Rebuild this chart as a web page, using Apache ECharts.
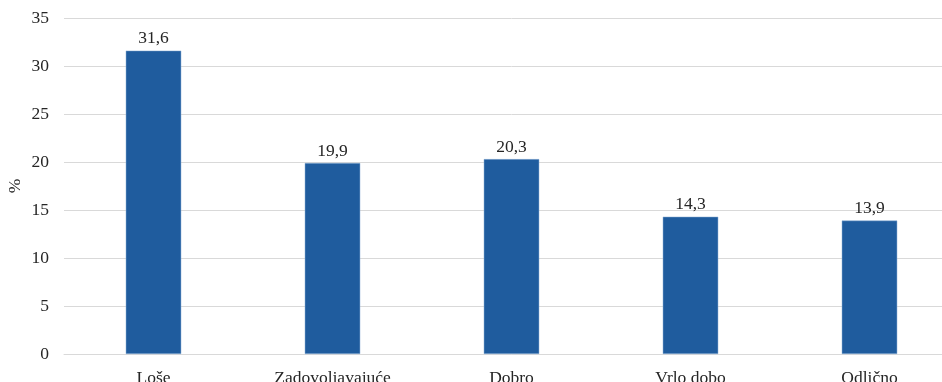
<!DOCTYPE html>
<html><head><meta charset="utf-8">
<script src="https://cdn.jsdelivr.net/npm/echarts@6/dist/echarts.min.js"></script>
<style>html,body{margin:0;padding:0;background:#fff;overflow:hidden}#c{width:959px;height:382px}</style>
</head><body><div id="c"></div>
<script>
const categories = ["Loše", "Zadovoljavajuće", "Dobro", "Vrlo dobo", "Odlično"];
const values = [31.6, 19.9, 20.3, 14.3, 13.9];
const yTicks = [0, 5, 10, 15, 20, 25, 30, 35];

const font = "'Liberation Serif', 'DejaVu Serif', serif";
const chart = echarts.init(document.getElementById('c'));
chart.setOption({
  animation: false,
  grid: { left: 64, right: 0, top: 18, bottom: 28, containLabel: false, outerBoundsMode: 'none' },
  xAxis: {
    type: 'category', data: categories,
    axisTick: { show: false },
    axisLine: { lineStyle: { color: '#d9d9d9', width: 1 } },
    axisLabel: { fontFamily: font, fontSize: 17.5, color: '#262626', margin: 15 }
  },
  yAxis: {
    type: 'value', min: yTicks[0], max: yTicks[yTicks.length - 1], interval: 5,
    name: '%', nameLocation: 'middle', nameGap: 40, nameRotate: 90, nameMoveOverlap: false,
    nameTextStyle: { fontFamily: font, fontSize: 17.5, color: '#262626' },
    axisLine: { show: false }, axisTick: { show: false },
    splitLine: { lineStyle: { color: '#d9d9d9', width: 1 } },
    axisLabel: { fontFamily: font, fontSize: 17.5, color: '#262626', margin: 15,
      formatter: v => String(v) }
  },
  series: [{
    type: 'bar', data: values, barWidth: '31%',
    itemStyle: { color: '#1F5C9E', borderColor: '#8fb0d6', borderWidth: 0.5 },
    label: { show: true, position: 'top', distance: 3, fontFamily: font, fontSize: 17.5, color: '#262626',
      formatter: p => String(p.value).replace('.', ',') }
  }]
});
</script></body></html>
